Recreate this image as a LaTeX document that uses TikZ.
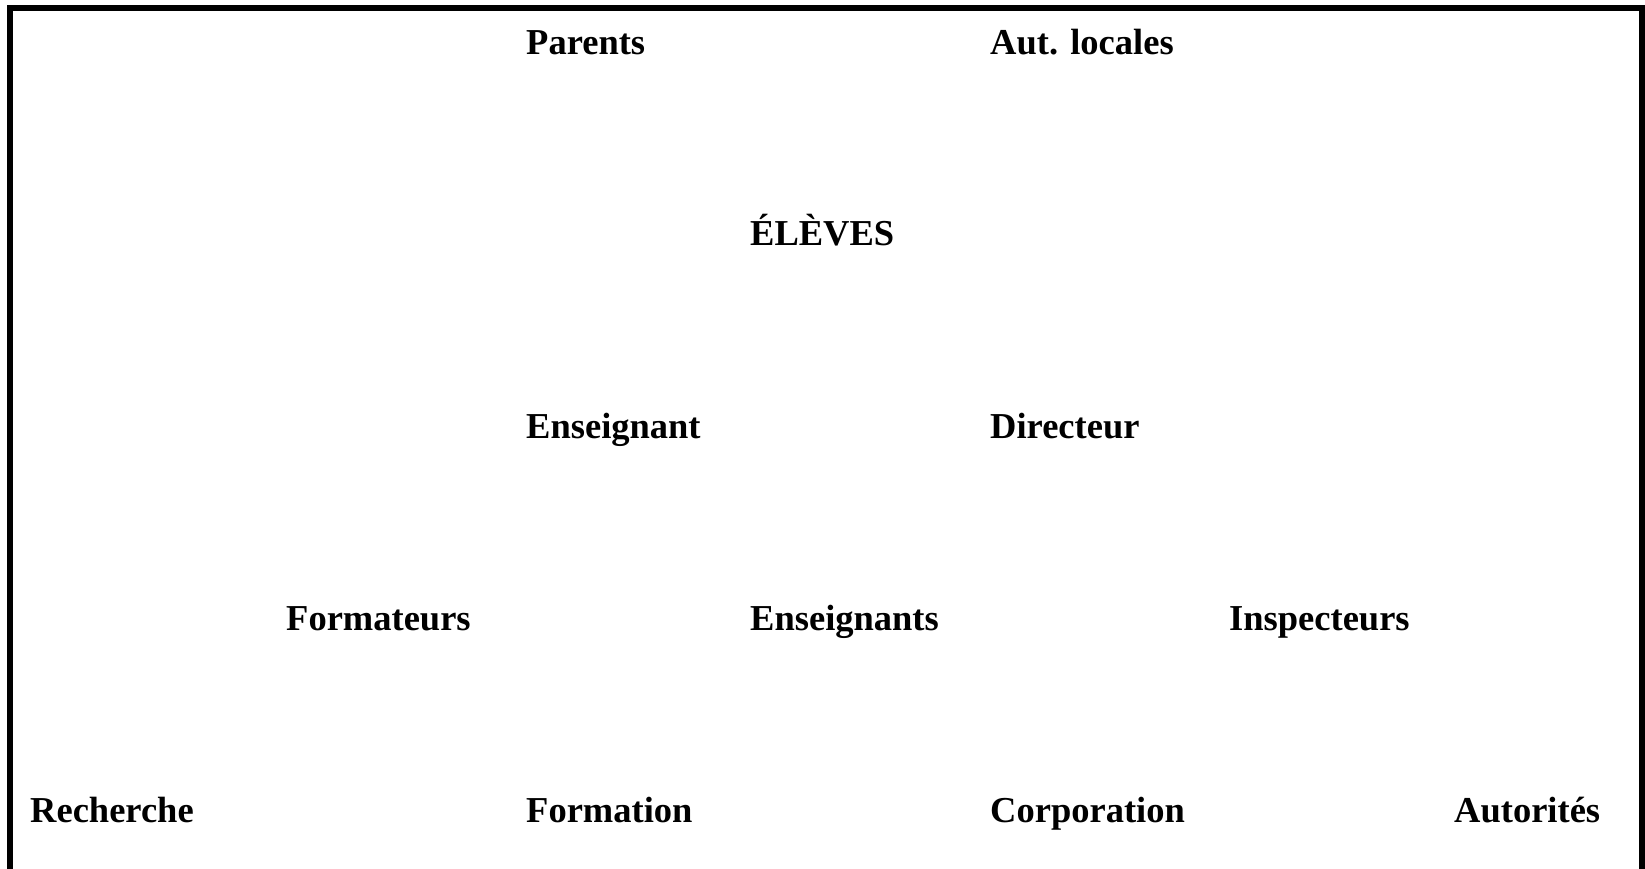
\documentclass[tikz,border=0pt]{standalone}
\usepackage{fontspec}
\setmainfont{Liberation Serif}
\begin{document}
\begin{tikzpicture}[x=1pt,y=-1pt,
  lbl/.style={anchor=base west,inner sep=0pt,font=\fontsize{36.5}{40}\selectfont\bfseries}]
\useasboundingbox (0,0) rectangle (1645,869);
\draw[line width=6pt] (10,890) -- (10,8) -- (1642,8) -- (1642,890);
\node[lbl] (parents) at (526,55) {Parents};
\node[lbl] (autloc) at (990,55) {Aut. locales};
\node[lbl] (eleves) at (750,245) {ÉLÈVES};
\node[lbl] (enseignant) at (526,438) {Enseignant};
\node[lbl] (directeur) at (990,438) {Directeur};
\node[lbl] (formateurs) at (286,630) {Formateurs};
\node[lbl] (enseignants) at (750,630) {Enseignants};
\node[lbl] (inspecteurs) at (1229,630) {Inspecteurs};
\node[lbl] (recherche) at (30,822) {Recherche};
\node[lbl] (formation) at (526,822) {Formation};
\node[lbl] (corporation) at (990,822) {Corporation};
\node[lbl] (autorites) at (1454,822) {Autorités};
\end{tikzpicture}
\end{document}
